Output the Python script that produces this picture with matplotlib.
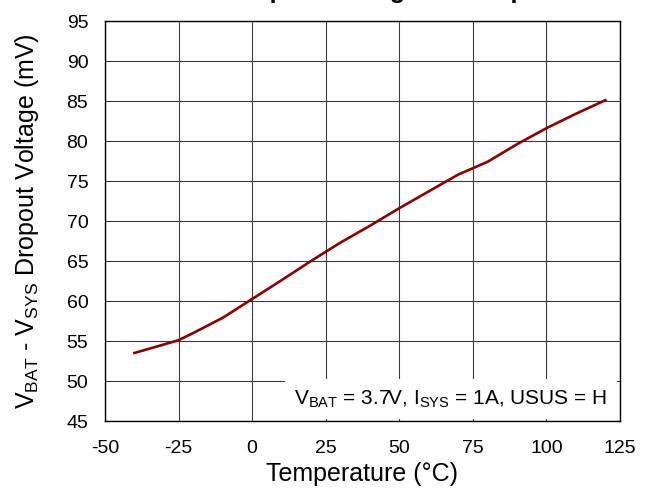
import matplotlib
matplotlib.use("Agg")
import matplotlib.pyplot as plt

# Arial-like look for every label, including the mathtext subscripts
plt.rcParams['font.family'] = ['Liberation Sans', 'DejaVu Sans']
plt.rcParams['mathtext.fontset'] = 'custom'
plt.rcParams['mathtext.rm'] = 'Liberation Sans'
plt.rcParams['mathtext.it'] = 'Liberation Sans'
plt.rcParams['mathtext.bf'] = 'Liberation Sans:bold'
plt.rcParams['axes.unicode_minus'] = False

# measured dropout voltage over temperature
temperature = [-40, -25, -20, -10, 0, 10, 20, 30, 40, 50, 60, 70, 80, 90, 100, 110, 120]
dropout_mv = [53.5, 55.1, 56.0, 57.9, 60.25, 62.6, 65.0, 67.3, 69.4, 71.6,
              73.7, 75.8, 77.4, 79.6, 81.6, 83.4, 85.1]

x_ticks = [-50, -25, 0, 25, 50, 75, 100, 125]
y_ticks = [45, 50, 55, 60, 65, 70, 75, 80, 85, 90, 95]

title = 'BATFET Dropout Voltage vs Temperature'
conditions = r'$\mathregular{V_{BAT}}$ = 3.7V, $\mathregular{I_{SYS}}$ = 1A, USUS = H'

fig = plt.figure(figsize=(6.53, 4.96), dpi=100)
ax = fig.add_axes([105 / 653, 75 / 496, 515 / 653, 400 / 496])

ax.plot(temperature, dropout_mv, color='#8b0000', lw=1.9, zorder=3)

ax.set_xlim(-50, 125)
ax.set_ylim(45, 95)
ax.set_xticks(x_ticks)
ax.set_yticks(y_ticks)
ax.grid(True, color='#3a3a3a', lw=0.8)
ax.set_axisbelow(True)
ax.tick_params(axis='both', length=0, labelsize=14)
ax.tick_params(axis='x', pad=14)
ax.tick_params(axis='y', pad=12)
for s in ax.spines.values():
    s.set_color('black')
    s.set_linewidth(1.0)

ax.set_xlabel('Temperature (°C)', fontsize=18, labelpad=3)
ax.set_ylabel(r'$\mathregular{V_{BAT}}$ - $\mathregular{V_{SYS}}$ Dropout Voltage (mV)',
              fontsize=18, labelpad=18)

# test conditions in a white box over the grid
ax.text(0.975, 0.055, conditions, transform=ax.transAxes, ha='right', va='center',
        fontsize=15, zorder=4,
        bbox=dict(boxstyle='square,pad=0.45', fc='white', ec='none'))

# title sits mostly above the top edge of the figure
fig.text(0.561, 1.005, title, ha='center', va='baseline', fontsize=18, fontweight='bold')

fig.savefig('out.png', dpi=100)
